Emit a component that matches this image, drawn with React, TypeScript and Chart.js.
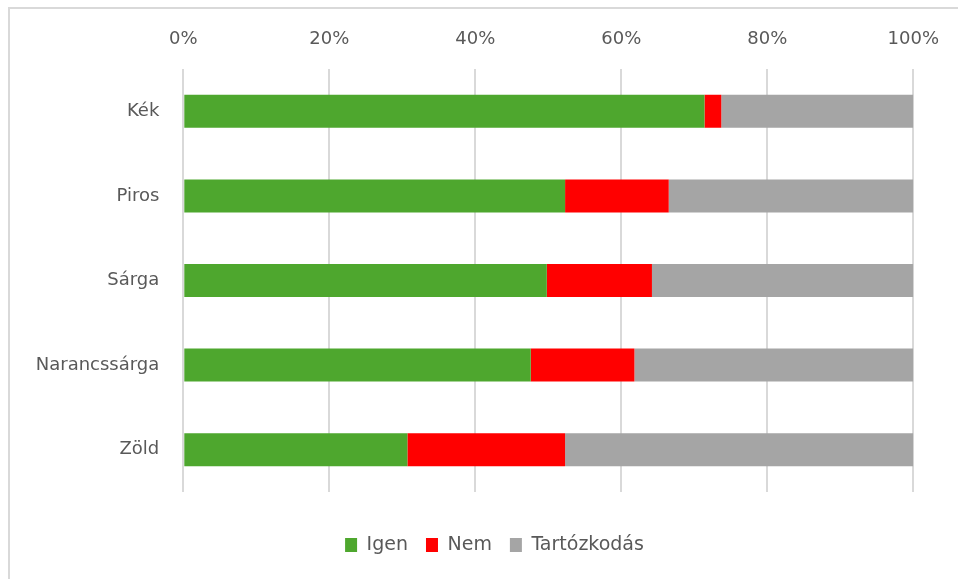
import React, { useEffect, useRef } from "react";
import { Chart, registerables } from "chart.js";

Chart.register(...registerables);

const categories = ["Kék", "Piros", "Sárga", "Narancssárga", "Zöld"];
const igen = [71.4, 52.3, 49.8, 47.6, 30.7];
const nem = [2.3, 14.2, 14.4, 14.2, 21.6];
const tartozkodas = [26.3, 33.5, 35.8, 38.2, 47.7];
const seriesNames = ["Igen", "Nem", "Tartózkodás"];
const seriesColors = ["#4EA72E", "#FF0000", "#A5A5A5"];
const xTicks = [0, 20, 40, 60, 80, 100];

export default function App() {
  const ref = useRef<HTMLCanvasElement | null>(null);

  useEffect(() => {
    document.body.style.overflow = "hidden";
    const canvas = ref.current;
    if (!canvas) return;
    const textColor = "#595959";
    const font = "'DejaVu Sans', sans-serif";
    const legendShift = {
      id: "legendShift",
      afterLayout(c: any) {
        const l = c.legend;
        if (l) {
          l.left += 37.5;
          l.right += 37.5;
        }
      },
    };
    const frame = {
      id: "frame",
      beforeDraw(c: any) {
        const ctx = c.ctx;
        ctx.save();
        ctx.strokeStyle = "#D9D9D9";
        ctx.lineWidth = 2;
        ctx.beginPath();
        ctx.moveTo(9, 579);
        ctx.lineTo(9, 8);
        ctx.lineTo(958, 8);
        ctx.stroke();
        ctx.restore();
      },
    };
    const chart = new Chart(canvas, {
      type: "bar",
      data: {
        labels: categories,
        datasets: [igen, nem, tartozkodas].map((d, i) => ({
          label: seriesNames[i],
          data: d,
          backgroundColor: seriesColors[i],
          borderWidth: 0,
          barPercentage: 0.39,
          categoryPercentage: 1,
        })),
      },
      options: {
        indexAxis: "y",
        responsive: false,
        animation: false,
        layout: { padding: { left: 0, right: 44, top: 0, bottom: 14.5 } },
        scales: {
          x: {
            position: "top",
            stacked: true,
            min: 0,
            max: 100,
            afterBuildTicks: (s: any) => {
              s.ticks = xTicks.map((v) => ({ value: v }));
            },
            afterFit: (s: any) => {
              s.height = 69;
            },
            ticks: {
              color: textColor,
              font: { family: font, size: 18 },
              padding: 19,
              callback: (v: any) => v + "%",
            },
            grid: { color: "#D9D9D9", lineWidth: 2, drawTicks: false },
            border: { display: false },
          },
          x2: {
            type: "linear",
            position: "bottom",
            display: true,
            ticks: { display: false },
            grid: { display: false, drawTicks: false },
            border: { display: false },
            afterFit: (s: any) => {
              s.height = 25.5;
            },
          },
          y: {
            stacked: true,
            afterFit: (s: any) => {
              s.width = 183.3;
            },
            ticks: {
              color: textColor,
              font: { family: font, size: 18 },
              padding: 24,
            },
            grid: { display: false, drawTicks: false },
            border: { display: false },
          },
        },
        plugins: {
          legend: {
            position: "bottom",
            labels: {
              boxWidth: 12,
              boxHeight: 14,
              padding: 18,
              color: textColor,
              font: { family: font, size: 19 },
            },
          },
          tooltip: { enabled: false },
        },
      } as any,
      plugins: [legendShift, frame],
    });
    return () => chart.destroy();
  }, []);

  return (
    <div>
      <canvas
        ref={ref}
        width={958}
        height={579}
        style={{ position: "fixed", left: 0, top: 0, width: 958, height: 579 }}
      />
    </div>
  );
}
